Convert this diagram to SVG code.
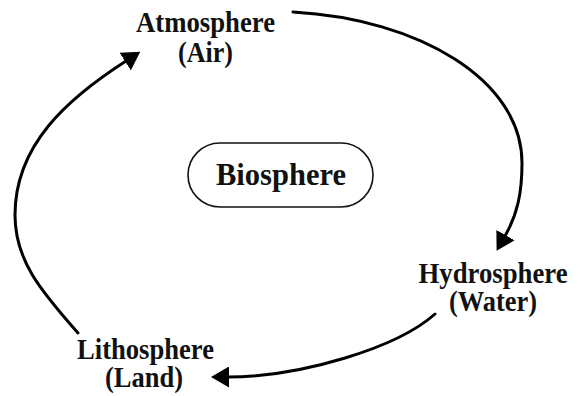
<svg xmlns="http://www.w3.org/2000/svg" width="583" height="396" viewBox="0 0 583 396">
  <style>
    .label { font-family: "Liberation Serif", "Times New Roman", serif; font-weight: bold; font-size: 28.5px; fill: #111; text-anchor: middle; }
    .center { font-size: 30.5px; }
    .flow { fill: none; stroke: #000; stroke-width: 3; stroke-linecap: round; marker-end: url(#head); }
    .pill { fill: #fff; stroke: #111; stroke-width: 1.6; }
  </style>
  <defs>
    <marker id="head" markerUnits="userSpaceOnUse" viewBox="0 -10.5 18 21" refX="1" refY="0" markerWidth="18" markerHeight="21" orient="auto">
      <path d="M0,-10.5 L18,0 L0,10.5 Z" fill="#000"/>
    </marker>
  </defs>
  <rect width="583" height="396" fill="#fff"/>

  <!-- cycle connectors -->
  <g id="connectors">
    <path class="flow" d="M293,12 C419,19 522,80 522,163 C522,193 517.5,214 505,236"/>
    <path class="flow" d="M435,314 C397,348 300,377 228,377"/>
    <path class="flow" d="M78,333 C40,290 15,260 15,215 C15,145 67,99 126,61"/>
  </g>

  <g id="atmosphere">
    <text class="label" x="205.5" y="32" textLength="139" lengthAdjust="spacingAndGlyphs">Atmosphere</text>
    <text class="label" x="205.5" y="62" textLength="55" lengthAdjust="spacingAndGlyphs">(Air)</text>
  </g>

  <g id="biosphere">
    <rect class="pill" x="188" y="143" width="185" height="64" rx="32" ry="32"/>
    <text class="label center" x="281" y="185" textLength="130" lengthAdjust="spacingAndGlyphs">Biosphere</text>
  </g>

  <g id="hydrosphere">
    <text class="label" x="493" y="283" textLength="149" lengthAdjust="spacingAndGlyphs">Hydrosphere</text>
    <text class="label" x="493" y="311" textLength="88" lengthAdjust="spacingAndGlyphs">(Water)</text>
  </g>

  <g id="lithosphere">
    <text class="label" x="145.5" y="359" textLength="137" lengthAdjust="spacingAndGlyphs">Lithosphere</text>
    <text class="label" x="144" y="387" textLength="78" lengthAdjust="spacingAndGlyphs">(Land)</text>
  </g>
</svg>
